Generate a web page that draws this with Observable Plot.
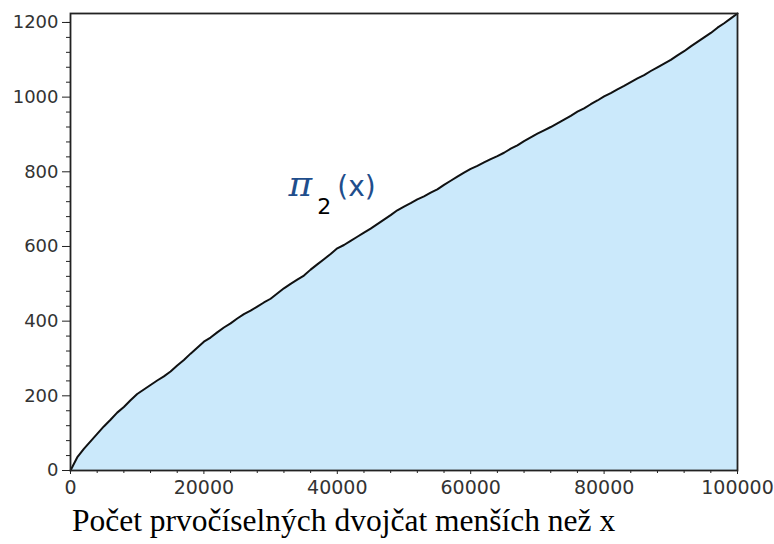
<!DOCTYPE html>
<html>
<head>
<meta charset="utf-8">
<script src="https://cdn.jsdelivr.net/npm/d3@7"></script>
<script src="https://cdn.jsdelivr.net/npm/@observablehq/plot@0.6"></script>
<style>
  body { margin: 0; background: white; }
  #caption { font-family: "Liberation Serif", "Times New Roman", serif; font-size: 31.5px; line-height: 34px; margin-left: 72px; margin-top: -1px; color: #000; white-space: nowrap; }
</style>
</head>
<body>
<div id="chart"></div>
<div id="caption">Počet prvočíselných dvojčat menších než x</div>
<script>
// x in thousands
const xThousands = [0,1,2,3,4,5,6,7,8,9,10,11,12,13,14,15,16,17,18,19,20,21,22,23,24,25,26,27,28,29,30,31,32,33,34,35,36,37,38,39,40,41,42,43,44,45,46,47,48,49,50,51,52,53,54,55,56,57,58,59,60,61,62,63,64,65,66,67,68,69,70,71,72,73,74,75,76,77,78,79,80,81,82,83,84,85,86,87,88,89,90,91,92,93,94,95,96,97,98,99,100];
// number of twin-prime pairs below x
const counts = [0,35,58,78,98,118,136,155,170,188,205,217,229,241,252,265,281,296,313,329,345,356,370,383,394,407,419,428,439,450,460,474,488,500,511,522,538,552,566,580,595,604,615,626,637,648,660,672,684,697,707,716,726,734,744,753,765,776,787,798,808,816,825,834,842,851,862,871,882,892,902,911,920,930,940,950,961,970,981,991,1002,1011,1021,1030,1040,1050,1059,1070,1080,1090,1100,1112,1123,1136,1148,1160,1172,1186,1198,1211,1224];

const yMajor = [0,200,400,600,800,1000,1200];
const yMinor = [40,80,120,160,240,280,320,360,440,480,520,560,640,680,720,760,840,880,920,960,1040,1080,1120,1160,1200];
const xMajor = [0,20000,40000,60000,80000,100000];
const xMinor = [4000,8000,12000,16000,24000,28000,32000,36000,44000,48000,52000,56000,64000,68000,72000,76000,84000,88000,92000,96000];

const data = xThousands.map((k, i) => ({x: k * 1000, y: counts[i]}));

const chart = Plot.plot({
  width: 774,
  height: 505,
  marginTop: 13,
  marginRight: 37,
  marginBottom: 35,
  marginLeft: 70,
  x: {domain: [0, 100000], label: null},
  y: {domain: [0, 1224], label: null},
  style: {fontFamily: "'DejaVu Sans', sans-serif", background: "white", color: "#333", overflow: "visible"},
  marks: [
    Plot.areaY(data, {x: "x", y: "y", fill: "#cbe9fb"}),
    Plot.line(data, {x: "x", y: "y", stroke: "#111", strokeWidth: 2}),
    Plot.frame({stroke: "#222", strokeWidth: 1.8}),
    Plot.axisY(yMajor, {tickSize: 8, tickPadding: 4, fontSize: 18, tickFormat: d => String(d), stroke: "#222", label: null}),
    Plot.axisY(yMinor, {tickSize: 4, text: null, stroke: "#222", label: null}),
    Plot.axisX(xMajor, {tickSize: 4, tickPadding: 6, fontSize: 19, tickFormat: d => String(d), stroke: "#222", label: null}),
    Plot.axisX(xMinor, {tickSize: 3, text: null, stroke: "#222", label: null}),
    Plot.text([{x: 32700, y: 736}], {x: "x", y: "y", text: () => "π", textAnchor: "start", lineAnchor: "bottom", fontSize: 36, fontStyle: "italic", fontFamily: "'DejaVu Serif', serif", fill: "#1f4e8c"}),
    Plot.text([{x: 37000, y: 688}], {x: "x", y: "y", text: () => "2", textAnchor: "start", lineAnchor: "bottom", fontSize: 22, fill: "#000"}),
    Plot.text([{x: 40000, y: 736}], {x: "x", y: "y", text: () => "(x)", textAnchor: "start", lineAnchor: "bottom", fontSize: 28, fill: "#1f4e8c"})
  ]
});
document.getElementById("chart").appendChild(chart);
</script>
</body>
</html>
